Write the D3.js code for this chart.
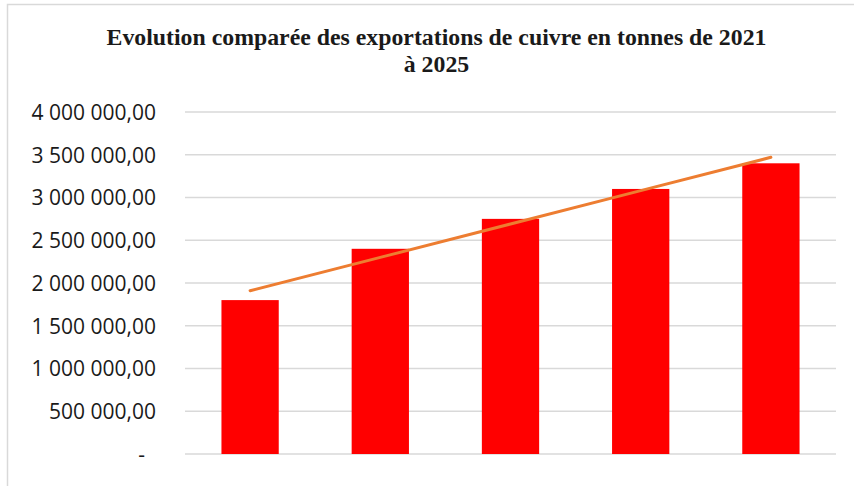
<!DOCTYPE html>
<html>
<head>
<meta charset="utf-8">
<script src="https://cdn.jsdelivr.net/npm/d3@7"></script>
<style>
  body { margin: 0; background: #ffffff; }
  svg { display: block; }
</style>
</head>
<body>
<div id="chart-container"></div>
<script>
// exportations de cuivre (tonnes)
const years = ["2021", "2022", "2023", "2024", "2025"];
const exportsTonnes = [1800000, 2400000, 2750000, 3100000, 3400000];
const yTicks = [0, 500000, 1000000, 1500000, 2000000, 2500000, 3000000, 3500000, 4000000];
const titleLines = ["Evolution comparée des exportations de cuivre en tonnes de 2021", "à 2025"];

const width = 854;
const height = 486;
const plot = { left: 185, right: 836, top: 112, bottom: 454 };

const fr = d3.formatLocale({ decimal: ",", thousands: "\u00a0", grouping: [3], currency: ["", ""] });
const fmt = fr.format(",.2f");

const svg = d3.select("#chart-container")
    .append("svg")
    .attr("width", width)
    .attr("height", height);

// cadre du graphique
svg.append("rect")
    .attr("x", 7.5)
    .attr("y", 4.5)
    .attr("width", 880)
    .attr("height", 520)
    .attr("fill", "#ffffff")
    .attr("stroke", "#d9d9d9")
    .attr("stroke-width", 1.5);

const x = d3.scaleBand()
    .domain(years)
    .range([plot.left, plot.right])
    .paddingInner(0.56)
    .paddingOuter(0.28);

const y = d3.scaleLinear()
    .domain([0, 4000000])
    .range([plot.bottom, plot.top]);

// grille horizontale
svg.append("g")
    .selectAll("line")
    .data(yTicks)
    .enter().append("line")
    .attr("x1", plot.left)
    .attr("x2", plot.right)
    .attr("y1", d => y(d))
    .attr("y2", d => y(d))
    .attr("stroke", "#d9d9d9")
    .attr("stroke-width", d => d === 0 ? 1.5 : 1.3);

// axe Y
const yAxis = svg.append("g")
    .attr("transform", "translate(" + (plot.left - 29) + ",0)")
    .call(d3.axisLeft(y).tickValues(yTicks).tickSize(0).tickPadding(0)
        .tickFormat(d => d === 0 ? "-" : fmt(d)));
yAxis.select(".domain").remove();
yAxis.selectAll("text")
    .style("font-family", "'Open Sans', sans-serif")
    .style("font-size", "21px")
    .attr("fill", "#1a1a1a")
    .attr("dy", "0.35em")
    .attr("x", d => d === 0 ? -11 : 0);

// barres
svg.selectAll(".bar")
    .data(exportsTonnes)
    .enter().append("rect")
    .attr("class", "bar")
    .attr("x", (d, i) => x(years[i]))
    .attr("y", d => y(d))
    .attr("width", x.bandwidth())
    .attr("height", d => plot.bottom - y(d))
    .attr("fill", "#ff0000");

// courbe de tendance linéaire (moindres carrés)
const idx = years.map((d, i) => i + 1);
const mx = d3.mean(idx);
const my = d3.mean(exportsTonnes);
const slope = d3.sum(idx, (k, i) => (k - mx) * (exportsTonnes[i] - my)) / d3.sum(idx, k => (k - mx) * (k - mx));
const intercept = my - slope * mx;
const trend = years.map((yr, i) => ({ year: yr, value: intercept + slope * (i + 1) }));

svg.append("path")
    .datum(trend)
    .attr("fill", "none")
    .attr("stroke", "#ed7d31")
    .attr("stroke-width", 3)
    .attr("stroke-linecap", "round")
    .attr("d", d3.line()
        .x(d => x(d.year) + x.bandwidth() / 2)
        .y(d => y(d.value)));

// titre
svg.append("g")
    .selectAll("text")
    .data(titleLines)
    .enter().append("text")
    .attr("x", 436.5)
    .attr("y", (d, i) => 44.5 + i * 27.5)
    .attr("text-anchor", "middle")
    .style("font-family", "'Liberation Serif', 'Times New Roman', serif")
    .style("font-weight", "bold")
    .style("font-size", "23.8px")
    .attr("fill", "#1a1a1a")
    .text(d => d);
</script>
</body>
</html>
